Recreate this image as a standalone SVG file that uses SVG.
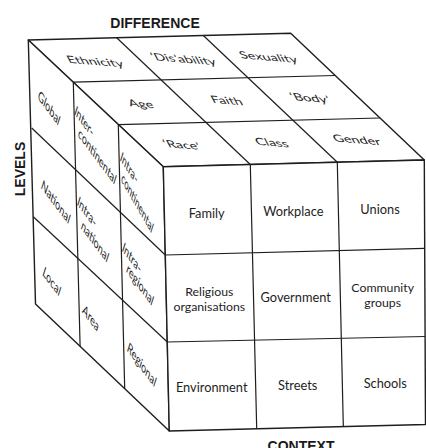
<svg xmlns="http://www.w3.org/2000/svg" width="426" height="448" viewBox="0 0 426 448">
  <style>
    .face { fill: #ffffff; stroke: #1e1e1e; stroke-width: 1.4; stroke-linejoin: round; }
    .grid { fill: none; stroke: #1e1e1e; stroke-width: 1.2; }
    .title { font-family: "Liberation Sans", Arial, sans-serif; font-weight: bold; font-size: 14px; fill: #1a1a1a; }
    .f { font-family: Lato, "Open Sans", sans-serif; font-size: 12.8px; fill: #1e1e1e; text-anchor: middle; }
    .f2 { font-family: Lato, "Open Sans", sans-serif; font-size: 12.3px; fill: #1e1e1e; text-anchor: middle; }
    .t { font-family: Lato, "Open Sans", sans-serif; font-size: 12px; fill: #1e1e1e; text-anchor: middle; }
    .l { font-family: Lato, "Open Sans", sans-serif; font-size: 12.5px; fill: #1e1e1e; text-anchor: middle; }
  </style>
  <rect width="426" height="448" fill="#ffffff"/>

  <!-- axis titles -->
  <text class="title" x="155" y="28" text-anchor="middle">DIFFERENCE</text>
  <text class="title" transform="translate(25 169) rotate(-90)" text-anchor="middle" font-size="14.5">LEVELS</text>
  <text class="title" x="301" y="451" text-anchor="middle" font-size="14.5">CONTEXT</text>

  <!-- top face: difference -->
  <g id="top-face">
    <polygon class="face" points="28.3,40 290.7,33.3 424.3,160 163.3,166.7"/>
    <line class="grid" x1="73.3" y1="82.2" x2="335.2" y2="75.5"/>
    <line class="grid" x1="118.3" y1="124.6" x2="379.8" y2="118"/>
    <line class="grid" x1="116.7" y1="37.7" x2="250.3" y2="164.5"/>
    <line class="grid" x1="203.3" y1="35.5" x2="337.3" y2="162.3"/>
    <text class="t" transform="matrix(1.2 0.1 0.45 0.85 95 61.7)" y="4">Ethnicity</text>
    <text class="t" transform="matrix(1.2 0.1 0.45 0.85 183.3 59.3)" y="4">‘Dis’ability</text>
    <text class="t" transform="matrix(1.2 0.1 0.45 0.85 268.3 57.3)" y="4">Sexuality</text>
    <text class="t" transform="matrix(1.2 0.1 0.45 0.85 140.7 104)" y="4">Age</text>
    <text class="t" transform="matrix(1.2 0.1 0.45 0.85 226.7 100.7)" y="4">Faith</text>
    <text class="t" transform="matrix(1.2 0.1 0.45 0.85 310 98.3)" y="4">‘Body’</text>
    <text class="t" transform="matrix(1.2 0.1 0.45 0.85 181.7 145)" y="4">‘Race’</text>
    <text class="t" transform="matrix(1.2 0.1 0.45 0.85 271.7 142.7)" y="4">Class</text>
    <text class="t" transform="matrix(1.2 0.1 0.45 0.85 356.7 140)" y="4">Gender</text>
  </g>

  <!-- left face: levels -->
  <g id="left-face">
    <polygon class="face" points="28.3,40 163.3,166.7 169.3,431 35.5,304"/>
    <line class="grid" x1="73.3" y1="82.2" x2="80.1" y2="346.3"/>
    <line class="grid" x1="118.3" y1="124.6" x2="124.7" y2="388.7"/>
    <line class="grid" x1="31.7" y1="128" x2="165.3" y2="255"/>
    <line class="grid" x1="33.3" y1="216.7" x2="167.3" y2="342"/>
    <text class="l" transform="matrix(0.6 0.8 -0.3 0.95 49 108.3)" y="4">Global</text>
    <text class="l" transform="matrix(0.6 0.8 -0.3 0.95 55.7 202.3)" y="4">National</text>
    <text class="l" transform="matrix(0.6 0.8 -0.3 0.95 51.7 281.7)" y="4">Local</text>
    <text class="l" transform="matrix(0.6 0.8 -0.3 0.95 84 121.7)" y="4">Inter-</text>
    <text class="l" transform="matrix(0.6 0.8 -0.3 0.95 97.3 156.7)" y="4">continental</text>
    <text class="l" transform="matrix(0.6 0.8 -0.3 0.95 86.7 212.3)" y="4">Intra-</text>
    <text class="l" transform="matrix(0.6 0.8 -0.3 0.95 95 241.7)" y="4">national</text>
    <text class="l" transform="matrix(0.6 0.8 -0.3 0.95 90.7 318.3)" y="4">Area</text>
    <text class="l" transform="matrix(0.55 0.84 -0.3 0.95 129 168.3)" y="4">Intra-</text>
    <text class="l" transform="matrix(0.5 0.87 -0.3 0.95 137.3 203.3)" y="4">continental</text>
    <text class="l" transform="matrix(0.6 0.8 -0.3 0.95 131.7 258.3)" y="4">Intra-</text>
    <text class="l" transform="matrix(0.6 0.8 -0.3 0.95 140 285)" y="4">regional</text>
    <text class="l" transform="matrix(0.6 0.8 -0.3 0.95 141.7 365)" y="4">Regional</text>
  </g>

  <!-- front face: context -->
  <g id="front-face">
    <polygon class="face" points="163.3,166.7 424.3,160 425.5,424.5 169.3,431"/>
    <line class="grid" x1="250.3" y1="164.5" x2="256.7" y2="428.3"/>
    <line class="grid" x1="337.3" y1="162.3" x2="343.3" y2="426"/>
    <line class="grid" x1="165.3" y1="255" x2="424.7" y2="248.3"/>
    <line class="grid" x1="167.3" y1="342" x2="425.1" y2="336.5"/>
    <text class="f" x="206.7" y="217.8">Family</text>
    <text class="f" x="293.3" y="215.5">Workplace</text>
    <text class="f" x="380" y="213.5">Unions</text>
    <text class="f2" x="209.3" y="296">Religious</text>
    <text class="f2" x="209.3" y="311">organisations</text>
    <text class="f" x="295.7" y="301.8">Government</text>
    <text class="f2" x="382.7" y="292">Community</text>
    <text class="f2" x="382.7" y="307">groups</text>
    <text class="f" x="211.7" y="392">Environment</text>
    <text class="f" x="297.7" y="390">Streets</text>
    <text class="f" x="385.3" y="387.8">Schools</text>
  </g>
</svg>
